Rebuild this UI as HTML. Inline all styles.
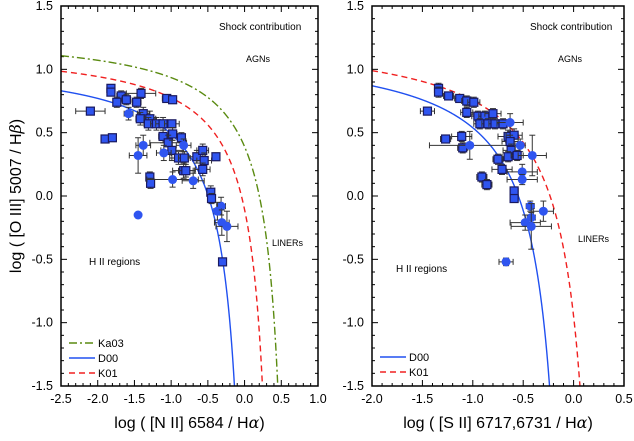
<!DOCTYPE html>
<html><head><meta charset="utf-8">
<style>
html,body{margin:0;padding:0;background:#fff;}
svg{display:block;font-family:"Liberation Sans",Arial,sans-serif;}
</style></head>
<body>
<svg id="chart" width="634" height="441" viewBox="0 0 634 441" xmlns="http://www.w3.org/2000/svg"></svg>
<script>
// ---- data: left panel (NII) ----
const nX = [-1.82,-1.82,-1.68,-1.41,-1.74,-1.61,-1.47,-1.06,-0.98,-2.10,-1.58,-1.38,-1.42,-1.29,-1.31,-1.20,-1.11,-0.99,-1.90,-1.80,-1.38,-1.45,-1.11,-0.98,-0.86,-1.04,-0.99,-0.83,-1.10,-0.90,-0.82,-0.65,-0.57,-0.55,-0.39,-0.83,-0.80,-0.57,-1.29,-1.28,-0.98,-0.70,-0.46,-0.45,-0.32,-0.37,-1.45,-0.31,-0.24,-0.30];
const nY = [0.85,0.82,0.79,0.81,0.74,0.76,0.74,0.77,0.76,0.67,0.65,0.65,0.61,0.61,0.57,0.57,0.57,0.57,0.45,0.46,0.40,0.32,0.47,0.49,0.46,0.42,0.36,0.40,0.34,0.30,0.30,0.31,0.36,0.28,0.31,0.20,0.20,0.21,0.15,0.10,0.13,0.12,0.03,-0.02,-0.08,-0.12,-0.15,-0.21,-0.24,-0.52];
const nXe = [0.05,0.05,0.06,0.2,0.05,0.06,0.06,0.06,0.04,0.2,0.06,0.08,0.06,0.08,0.06,0.08,0.1,0.1,0.05,0.05,0.1,0.12,0.06,0.06,0.05,0.25,0.15,0.1,0.1,0.12,0.08,0.12,0.08,0.1,0.05,0.15,0.1,0.1,0.05,0.05,0.35,0.15,0.05,0.05,0.06,0.05,0,0.1,0.15,0.03];
const nYe = [0.03,0.03,0.04,0.04,0.04,0.04,0.04,0.03,0.03,0.03,0.05,0.05,0.05,0.06,0.05,0.05,0.05,0.03,0.03,0.03,0.08,0.14,0.05,0.05,0.04,0.06,0.08,0.05,0.06,0.05,0.05,0.05,0.05,0.06,0.03,0.06,0.05,0.05,0.04,0.04,0.06,0.06,0.05,0.04,0.07,0.07,0,0.1,0.12,0.03];
const nM = ["s","s","s","s","s","s","s","s","s","s","c","s","s","s","s","s","s","s","s","s","c","c","s","s","s","s","s","c","c","s","s","s","s","s","s","s","s","s","s","s","c","c","s","s","c","c","c","c","c","s"];
// ---- data: right panel (SII) ----
const sX = [-1.34,-1.34,-1.24,-1.13,-1.06,-0.99,-1.45,-1.06,-0.95,-0.88,-0.80,-0.93,-0.85,-0.78,-0.70,-0.63,-1.27,-1.11,-1.10,-1.03,-0.65,-0.59,-0.63,-0.62,-0.53,-0.75,-0.65,-0.56,-0.41,-0.71,-0.51,-0.51,-0.91,-0.86,-0.59,-0.59,-0.43,-0.42,-0.30,-0.48,-0.42,-0.67];
const sY = [0.85,0.82,0.79,0.77,0.75,0.74,0.67,0.66,0.63,0.63,0.65,0.57,0.57,0.57,0.57,0.58,0.45,0.47,0.38,0.40,0.47,0.48,0.43,0.36,0.40,0.29,0.31,0.32,0.32,0.21,0.19,0.13,0.15,0.09,0.04,-0.02,-0.08,-0.17,-0.12,-0.21,-0.24,-0.52];
const sXe = [0.04,0.04,0.05,0.05,0.05,0.06,0.07,0.06,0.06,0.06,0.08,0.06,0.06,0.06,0.06,0.13,0.05,0.1,0.05,0.4,0.1,0.08,0.08,0.08,0.05,0.05,0.06,0.06,0.14,0.1,0.15,0.15,0.05,0.05,0.04,0.04,0.04,0.04,0.1,0.15,0.2,0.07];
const sYe = [0.04,0.04,0.03,0.03,0.04,0.04,0.03,0.04,0.04,0.04,0.04,0.04,0.04,0.04,0.04,0.07,0.03,0.04,0.04,0.11,0.05,0.05,0.05,0.05,0.05,0.04,0.04,0.04,0.16,0.04,0.06,0.04,0.04,0.04,0.03,0.03,0.04,0.04,0.08,0.06,0.18,0.03];
const sM = ["s","s","s","s","s","s","s","s","s","s","s","s","s","s","s","c","s","s","s","c","s","s","s","s","c","s","s","s","c","s","c","c","s","s","s","s","c","c","c","c","c","c"];
const xTicksN = ["-2.5","-2.0","-1.5","-1.0","-0.5","0.0","0.5","1.0"];
const xTicksS = ["-2.0","-1.5","-1.0","-0.5","0.0","0.5"];
const yTicks = ["-1.5","-1.0","-0.5","0.0","0.5","1.0","1.5"];

const NS="http://www.w3.org/2000/svg";
const svg=document.getElementById('chart');
function mk(tag,attrs,parent){const e=document.createElementNS(NS,tag);for(const k in attrs)e.setAttribute(k,attrs[k]);(parent||svg).appendChild(e);return e;}

function panel(cfg){
  const g=mk('g',{});
  
  
  const L=cfg.L,R=cfg.R,T=6,B=386;
  const sx=v=>L+(v-cfg.x0)/(cfg.x1-cfg.x0)*(R-L);
  const sy=v=>B-(v-(-1.5))/3*(B-T);
  const cid='clip'+cfg.name;
  const cp=mk('clipPath',{id:cid},g);mk('rect',{x:L,y:T,width:R-L,height:B-T},cp);
  for(let v=cfg.x0;v<=cfg.x1+1e-6;v+=0.1){
    const major=Math.abs(Math.round(v*2)-v*2)<1e-6;const len=major?6:3;const X=sx(v);
    mk('line',{x1:X,y1:B,x2:X,y2:B-len,stroke:'#000','stroke-width':1},g);
    mk('line',{x1:X,y1:T,x2:X,y2:T+len,stroke:'#000','stroke-width':1},g);
  }
  for(let v=-1.5;v<=1.5+1e-6;v+=0.1){
    const major=Math.abs(Math.round(v*2)-v*2)<1e-6;const len=major?6:3;const Y=sy(v);
    mk('line',{x1:L,y1:Y,x2:L+len,y2:Y,stroke:'#000','stroke-width':1},g);
    mk('line',{x1:R,y1:Y,x2:R-len,y2:Y,stroke:'#000','stroke-width':1},g);
  }
  cfg.xt.forEach(t=>{const e=mk('text',{x:sx(parseFloat(t)),y:B+17,'text-anchor':'middle','font-size':12.5},g);e.textContent=t;
    });
  yTicks.forEach(t=>{const e=mk('text',{x:L-8,y:sy(parseFloat(t))+4,'text-anchor':'end','font-size':12.5},g);e.textContent=t;
    });
  const xt=mk('text',{x:(L+R)/2,y:428,'text-anchor':'middle','font-size':16},g);
  xt.innerHTML=cfg.xtitle;
  
  const cg=mk('g',{'clip-path':'url(#'+cid+')'},g);
  cfg.curves.forEach(c=>{
    let d='';for(let x=cfg.x0;x<c.xa-0.0005;x+=0.002){const y=c.f(x);if(y<-1.7)break;d+=(d?'L':'M')+sx(x).toFixed(2)+','+sy(y).toFixed(2);}
    const p=mk('path',{d:d,fill:'none',stroke:c.col,'stroke-width':1.4,'stroke-dasharray':c.dash||'none'},cg);
    
  });
  const pg=mk('g',{'clip-path':'url(#'+cid+')'},g);
  for(let i=0;i<cfg.X.length;i++){
    const X=sx(cfg.X[i]),Y=sy(cfg.Y[i]);
    const ex=(sx(cfg.X[i]+cfg.Xe[i])-X),ey=(Y-sy(cfg.Y[i]+cfg.Ye[i]));
    const col='#333';
    if(ex>0){mk('line',{x1:X-ex,y1:Y,x2:X+ex,y2:Y,stroke:col,'stroke-width':1},pg);
      mk('line',{x1:X-ex,y1:Y-3,x2:X-ex,y2:Y+3,stroke:col},pg);mk('line',{x1:X+ex,y1:Y-3,x2:X+ex,y2:Y+3,stroke:col},pg);}
    if(ey>0){mk('line',{x1:X,y1:Y-ey,x2:X,y2:Y+ey,stroke:col,'stroke-width':1},pg);
      mk('line',{x1:X-3,y1:Y-ey,x2:X+3,y2:Y-ey,stroke:col},pg);mk('line',{x1:X-3,y1:Y+ey,x2:X+3,y2:Y+ey,stroke:col},pg);}
    let m;
    if(cfg.M[i]==='s') m=mk('rect',{x:X-4,y:Y-4,width:8,height:8,fill:'#2f55f0',stroke:'#1a1a60','stroke-width':1.2},pg);
    else m=mk('circle',{cx:X,cy:Y,r:4.5,fill:'#2f55f0'},pg);
    
  }
  const fr=mk('rect',{x:L,y:T,width:R-L,height:B-T,fill:'none',stroke:'#000','stroke-width':1.5},g);
  
  cfg.notes.forEach(n=>{const e=mk('text',{x:n[1],y:n[2],'font-size':n[3]||10},g);e.textContent=n[0];
    });
  cfg.legend.forEach((l,i)=>{const y=cfg.legY+i*15;
    const lg=mk('g',{},g);
    mk('line',{x1:L+8,y1:y,x2:L+34,y2:y,stroke:l.col,'stroke-width':1.4,'stroke-dasharray':l.dash||'none'},lg);
    const t=mk('text',{x:L+37,y:y+4,'font-size':11},lg);t.textContent=l.name;});
}

panel({name:'nii-panel',L:61,R:318,x0:-2.5,x1:1.0,xt:xTicksN,
  xtitle:'log ( [N II] 6584 / H<tspan font-family="DejaVu Serif" font-style="italic">α</tspan>)',
  curves:[
    {name:'ka03',f:x=>0.61/(x-0.67)+1.3,xa:0.67,col:'#5a8a10',dash:'8,3,2,3'},
    {name:'k01',f:x=>0.61/(x-0.47)+1.19,xa:0.47,col:'#f02020',dash:'6,4'},
    {name:'d00',f:x=>0.667/(x-0.12)+1.085,xa:0.12,col:'#2050f0'}],
  X:nX,Y:nY,Xe:nXe,Ye:nYe,M:nM,
  notes:[['Shock contribution',219,30],['AGNs',246,62,9],['LINERs',272,246,9],['H II regions',89,265]],
  legend:[{name:'Ka03',col:'#5a8a10',dash:'8,3,2,3'},{name:'D00',col:'#2050f0'},{name:'K01',col:'#f02020',dash:'6,4'}],legY:343});

panel({name:'sii-panel',L:372,R:624,x0:-2.0,x1:0.5,xt:xTicksS,
  xtitle:'log ( [S II] 6717,6731 / H<tspan font-family="DejaVu Serif" font-style="italic">α</tspan>)',
  curves:[
    {name:'k01',f:x=>0.72/(x-0.32)+1.30,xa:0.32,col:'#f02020',dash:'6,4'},
    {name:'d00',f:x=>0.673/(x-0.01)+1.205,xa:0.01,col:'#2050f0'}],
  X:sX,Y:sY,Xe:sXe,Ye:sYe,M:sM,
  notes:[['Shock contribution',530,30],['AGNs',558,62,9],['LINERs',578,242,9],['H II regions',396,272]],
  legend:[{name:'D00',col:'#2050f0'},{name:'K01',col:'#f02020',dash:'6,4'}],legY:357});

const yt=mk('text',{x:0,y:0,'text-anchor':'middle','font-size':16,transform:'translate(21,196) rotate(-90)'});
yt.innerHTML='log ( [O III] 5007 / H<tspan font-family="DejaVu Serif" font-style="italic">β</tspan>)';


</script>
</body></html>
